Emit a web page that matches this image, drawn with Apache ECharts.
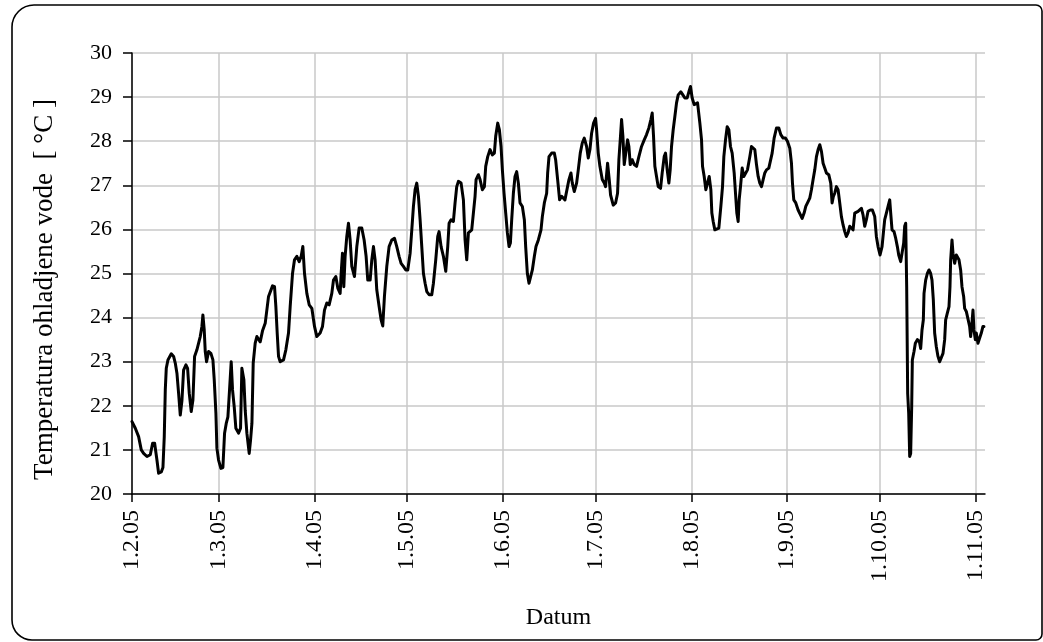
<!DOCTYPE html>
<html>
<head>
<meta charset="utf-8">
<title>Temperatura ohladjene vode</title>
<script src="https://cdn.jsdelivr.net/npm/echarts@6/dist/echarts.min.js"></script>
<style>
  html, body { margin: 0; padding: 0; background: #ffffff; }
  #chart { width: 1043px; height: 642px; }
</style>
</head>
<body>
<div id="chart"></div>
<script>
// Measurement time, in days counted from 1 Feb 2005
const measuredDay = [
  0.0, 1.07, 2.14, 3.0, 3.76, 4.84, 5.38, 5.92, 6.67, 7.32, 8.07, 8.61, 9.47, 10.01, 10.44, 10.77, 11.09, 11.63, 12.71, 13.46,
  14.0, 14.54, 15.08, 15.62, 16.16, 16.69, 17.45, 17.99, 18.53, 19.17, 19.71, 20.25, 21.0, 22.08, 22.62, 22.94, 23.37, 23.7, 24.13, 24.78,
  25.53, 26.18, 26.61, 27.15, 27.47, 28.01, 28.76, 29.41, 29.95, 30.49, 31.03, 31.56, 32.1, 32.53, 33.07, 33.61, 34.47, 35.12, 35.55, 36.2,
  36.63, 37.17, 37.92, 38.36, 38.8, 39.22, 39.86, 40.4, 41.48, 42.23,
  43.1, 44.18, 45.47, 46.12, 46.55, 46.98, 47.41, 47.95, 49.03, 49.78, 50.64, 51.18, 51.94, 52.58, 53.34, 54.09, 54.74, 55.28, 55.82, 56.57,
  57.33, 58.19, 59.05, 59.8, 60.88, 61.64, 62.28, 63.04, 63.79, 64.65, 65.19, 65.95, 66.59, 67.35, 67.67, 68.1, 68.53, 68.96, 69.5, 70.04,
  70.58, 71.12, 71.98, 72.74, 73.49, 74.35, 75.11, 75.75, 76.29, 77.05, 77.59, 78.13, 78.66, 79.2, 79.96, 80.6, 81.14, 81.68, 82.44, 83.19,
  84.05, 84.92, 85.67, 86.42, 87.07, 87.82, 88.58,
  89.23, 89.99, 90.53, 91.06, 91.6, 92.14, 92.68, 93.22, 93.76, 94.3, 94.84, 95.38, 96.13, 96.99, 97.53, 98.28, 98.93, 99.36, 100.01, 100.76,
  101.52, 102.16, 102.6, 103.24, 103.99, 104.53, 105.07, 105.61, 106.48, 107.23, 107.77, 108.31, 108.85, 109.39, 109.92, 110.46, 111.0, 111.33, 112.08, 112.62,
  113.37, 114.02, 114.45, 115.1, 115.85, 116.6, 117.25, 117.68, 118.33, 118.87, 119.41, 119.84, 120.38, 120.92, 121.46, 122.0, 122.43, 122.86, 123.4, 123.93,
  124.47, 125.01, 125.55, 126.31, 126.95, 127.38, 127.92, 128.46, 129.0, 129.54, 130.19, 130.72, 131.48, 132.34, 132.77, 133.42, 134.17, 134.49, 134.93, 135.79,
  136.65, 137.07, 137.72, 138.36, 139.01, 139.55, 140.09, 140.62, 141.38, 142.03, 142.46, 143.1, 143.86, 144.4, 145.04, 145.69, 146.34, 147.09, 147.63, 148.17,
  148.71, 149.35, 150.0, 150.32, 150.86, 151.4, 152.16, 152.8, 153.23, 153.88, 154.42, 154.85, 155.71, 156.47, 157.11, 157.54, 157.98, 158.41, 158.84, 159.27,
  159.81, 160.35, 160.78, 161.21, 161.86, 162.5, 163.26, 164.01, 164.87, 165.74, 166.49, 167.24, 167.89, 168.32, 168.75, 169.18, 169.72, 170.26, 171.02, 171.55,
  172.2, 172.63, 173.17, 173.71, 174.14, 174.57, 175.11, 175.65, 176.19, 176.73, 177.59, 178.24, 178.88, 179.64, 180.18, 180.71, 181.25, 181.9,
  182.34, 182.99, 183.74, 184.28, 184.6, 185.14, 185.68, 186.22, 186.76, 187.3, 187.62, 188.05, 188.59, 189.13, 189.88, 190.53, 191.07, 191.5, 192.04, 192.58,
  193.12, 193.65, 194.19, 194.84, 195.27, 195.7, 196.13, 196.46, 196.89, 197.43, 197.96, 198.5, 199.15, 199.9, 200.44, 200.98, 201.52, 202.06, 202.6, 203.14,
  203.68, 204.22, 204.75, 205.29, 206.05, 206.69, 207.13, 207.77, 208.53, 209.28, 209.93, 210.68, 211.44, 212.08, 212.84, 213.38, 213.7, 214.13, 214.78, 215.53,
  216.29, 216.83, 217.47, 218.01, 218.76, 219.3, 219.84, 220.38, 220.92, 221.46, 222.0, 222.54, 223.08, 223.61, 224.15, 224.69, 225.45, 226.09,
  226.52, 226.95, 227.38, 227.92, 228.46, 229.0, 229.54, 230.08, 230.62, 231.15, 231.69, 232.23, 232.77, 233.31, 233.85, 234.39, 234.93, 235.47, 236.0, 236.54,
  237.08, 237.62, 238.16, 238.91, 239.56, 240.32, 240.85, 241.39, 242.04, 242.69, 243.12, 243.55, 244.09, 244.63, 245.17, 245.49, 245.92, 246.57, 247.1, 247.64,
  248.08, 248.72, 249.26, 249.69, 250.01, 250.34, 250.66, 250.98, 251.31, 251.63, 251.95, 252.28, 252.49, 253.03, 253.46, 254.11, 254.76, 255.19, 255.62, 256.05,
  256.27, 256.8, 257.34, 257.88, 258.42, 258.85, 259.28, 259.71, 260.25, 260.79, 261.33, 261.87, 262.41, 262.95, 263.27, 263.81, 264.35, 264.67, 264.89, 265.32,
  265.64, 266.18, 266.72, 267.04, 267.58, 268.12, 268.55, 269.09, 269.41, 269.95, 270.49, 271.03, 271.35, 271.78, 272.11, 272.43, 272.86, 273.18, 273.72, 274.26,
  274.8, 275.34, 275.66
];

// Chilled water temperature, °C
const waterTemp = [
  21.64, 21.49, 21.3, 21.0, 20.92, 20.85, 20.81, 20.89, 21.15, 21.15, 20.77, 20.47, 20.5, 20.6, 21.3, 22.36, 22.85, 23.04, 23.18, 23.12,
  22.97, 22.74, 22.28, 21.79, 22.12, 22.81, 22.93, 22.85, 22.28, 21.87, 22.13, 23.12, 23.27, 23.57, 23.8, 24.06, 23.72, 23.23, 23.0, 23.23,
  23.19, 23.04, 22.59, 21.83, 21.04, 20.77, 20.58, 20.6, 21.38, 21.6, 21.75, 22.36, 23.0, 22.36, 21.98, 21.49, 21.38, 21.49, 22.85, 22.59,
  21.9, 21.38, 20.92, 21.22, 21.6, 22.97, 23.42, 23.57, 23.45, 23.7,
  23.87, 24.48, 24.72, 24.7, 24.25, 23.65, 23.12, 23.0, 23.04, 23.27, 23.65, 24.25, 25.0, 25.31, 25.39, 25.27, 25.39, 25.61, 25.0, 24.55,
  24.29, 24.21, 23.8, 23.57, 23.65, 23.8, 24.17, 24.33, 24.29, 24.55, 24.85, 24.93, 24.67, 24.55, 25.0, 25.46, 24.7, 25.39, 25.84, 26.14,
  25.76, 25.16, 24.93, 25.61, 26.03, 26.03, 25.76, 25.39, 24.85, 24.85, 25.31, 25.61, 25.31, 24.63, 24.25, 23.95, 23.81, 24.48, 25.16, 25.61,
  25.76, 25.8, 25.61, 25.39, 25.23, 25.16, 25.08,
  25.08, 25.46, 25.99, 26.52, 26.9, 27.05, 26.75, 26.22, 25.61, 25.0, 24.78, 24.59, 24.52, 24.52, 24.78, 25.31, 25.84, 25.95, 25.61, 25.39,
  25.05, 25.61, 26.14, 26.22, 26.18, 26.6, 26.97, 27.09, 27.05, 26.67, 25.76, 25.31, 25.92, 25.92, 25.99, 26.37, 26.75, 27.13, 27.24, 27.13,
  26.9, 26.97, 27.43, 27.65, 27.81, 27.69, 27.73, 28.11, 28.41, 28.26, 27.88, 27.35, 26.82, 26.37, 25.92, 25.61, 25.69, 26.22, 26.82, 27.2,
  27.31, 27.05, 26.6, 26.52, 26.22, 25.61, 25.0, 24.78, 24.82, 25.08, 25.39, 25.61, 25.76, 25.99, 26.29, 26.6, 26.82, 27.28, 27.65, 27.73,
  27.73, 27.58, 27.13, 26.67, 26.75, 26.75, 26.67, 26.67, 27.13, 27.28, 27.05, 26.86, 27.05, 27.35, 27.73, 27.96, 28.07, 27.88, 27.62, 27.81,
  28.18, 28.41, 28.52, 28.26, 27.73, 27.43, 27.13, 27.05, 26.97, 27.5, 27.13, 26.78, 26.55, 26.6, 26.82, 27.58, 28.03, 28.49, 28.11, 27.47,
  27.5, 28.03, 27.88, 27.47, 27.58, 27.47, 27.43, 27.65, 27.88, 28.03, 28.15, 28.3, 28.49, 28.64, 28.11, 27.43, 27.2, 26.97, 26.93, 27.28,
  27.65, 27.73, 27.35, 27.05, 27.35, 27.88, 28.26, 28.56, 28.87, 29.05, 29.12, 29.05, 28.98, 28.98, 29.12, 29.24, 28.98, 28.83,
  28.83, 28.87, 28.41, 28.03, 27.43, 27.2, 26.9, 26.9, 27.2, 26.9, 26.37, 26.18, 25.99, 25.95, 26.03, 26.52, 26.97, 27.65, 28.03, 28.33,
  28.26, 27.88, 27.73, 27.28, 26.82, 26.37, 26.18, 26.67, 26.97, 27.39, 27.2, 27.2, 27.35, 27.65, 27.88, 27.92, 27.81, 27.47, 27.2, 27.05,
  26.97, 27.13, 27.28, 27.35, 27.39, 27.43, 27.73, 28.07, 28.3, 28.3, 28.15, 28.07, 28.07, 28.0, 27.84, 27.5, 27.05, 26.67, 26.6, 26.44,
  26.33, 26.25, 26.37, 26.52, 26.63, 26.71, 26.9, 27.13, 27.35, 27.65, 27.81, 27.92, 27.77, 27.5, 27.39, 27.28, 27.24, 27.05,
  26.6, 26.75, 26.82, 26.97, 26.9, 26.6, 26.29, 26.1, 25.95, 25.84, 25.92, 26.07, 26.1, 25.99, 26.37, 26.37, 26.41, 26.44, 26.48, 26.33,
  26.07, 26.22, 26.41, 26.44, 26.44, 26.29, 25.84, 25.61, 25.42, 25.61, 25.92, 26.22, 26.37, 26.52, 26.67, 26.37, 25.99, 25.95, 25.8, 25.61,
  25.42, 25.27, 25.23, 25.69, 26.07, 26.14, 24.7, 22.28, 21.83, 20.85, 20.92, 21.98, 23.04, 23.23, 23.42, 23.5, 23.46, 23.3, 23.72, 23.95,
  24.55, 24.85, 25.0, 25.08, 25.0, 24.85, 24.4, 23.65, 23.34, 23.12, 23.0, 22.97, 23.19, 23.5, 23.95, 24.1, 24.25, 24.7, 25.31, 25.76,
  25.46, 25.23, 25.42, 25.46, 25.31, 25.08, 24.7, 24.48, 24.21, 24.14, 24.1, 23.8, 23.57, 23.87, 24.17, 23.72, 23.5, 23.65, 23.42, 23.46,
  23.65, 23.8, 23.8
];

// Month starts (days from 1 Feb 2005) and their labels
const monthTickDays = [0, 28, 59, 89, 120, 150, 181, 212, 242, 273];
const monthTickLabels = ['1.2.05', '1.3.05', '1.4.05', '1.5.05', '1.6.05', '1.7.05', '1.8.05', '1.9.05', '1.10.05', '1.11.05'];

const FONT = '"Liberation Serif", "Times New Roman", serif';

const chart = echarts.init(document.getElementById('chart'), null, { renderer: 'canvas' });

const seriesData = measuredDay.map((d, i) => [d, waterTemp[i]]);

chart.setOption({
  animation: false,
  backgroundColor: '#ffffff',
  graphic: [{
    type: 'rect',
    shape: { x: 12, y: 5, width: 1030, height: 635, r: [22, 6, 6, 20] },
    style: { fill: 'none', stroke: '#000000', lineWidth: 1.6 },
    z: -1
  }],
  grid: { left: 132, top: 53, right: 58, bottom: 148, containLabel: false },
  xAxis: {
    type: 'value',
    min: 0,
    max: 276,
    name: 'Datum',
    nameLocation: 'middle',
    nameGap: 112,
    nameTextStyle: { fontFamily: FONT, fontSize: 24, color: '#000' },
    axisLine: { show: true, onZero: false, lineStyle: { color: '#000', width: 1.5 } },
    axisTick: { show: true, inside: false, length: 8, customValues: monthTickDays, lineStyle: { color: '#000', width: 1.5 } },
    axisLabel: {
      customValues: monthTickDays,
      rotate: 90,
      margin: 16,
      fontFamily: FONT,
      fontSize: 24,
      color: '#000',
      formatter: v => monthTickLabels[monthTickDays.indexOf(Math.round(v))] || ''
    },
    splitLine: { show: true, lineStyle: { color: '#c8c8c8', width: 1.5 } }
  },
  yAxis: {
    type: 'value',
    min: 20,
    max: 30,
    interval: 1,
    name: 'Temperatura ohladjene vode  [ °C ]',
    nameLocation: 'middle',
    nameRotate: 90,
    nameGap: 74,
    nameTextStyle: { fontFamily: FONT, fontSize: 27, color: '#000', padding: [0, 32, 0, 0] },
    axisLine: { show: true, lineStyle: { color: '#000', width: 1.5 } },
    axisTick: { show: true, inside: false, length: 9, lineStyle: { color: '#000', width: 1.5 } },
    axisLabel: { margin: 20, fontFamily: FONT, fontSize: 22, color: '#000' },
    splitLine: { show: true, lineStyle: { color: '#c8c8c8', width: 1.5 } }
  },
  series: [{
    type: 'line',
    data: seriesData,
    showSymbol: false,
    symbol: 'none',
    smooth: false,
    clip: true,
    lineStyle: { color: '#000000', width: 3, join: 'round', cap: 'round' },
    z: 3
  }]
});
</script>
</body>
</html>
